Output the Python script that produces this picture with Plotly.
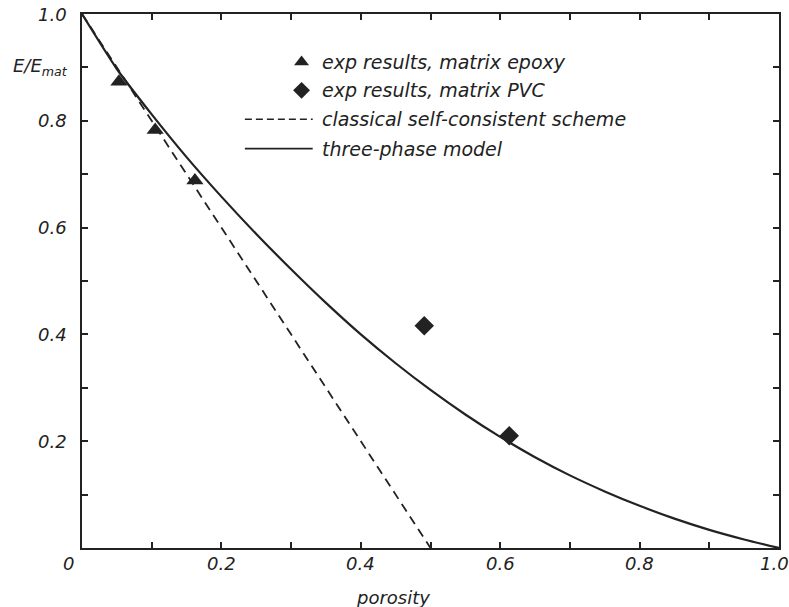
import plotly.graph_objects as go

# Three-phase model curve
porosity_model = [0.0, 0.05, 0.1, 0.15, 0.2, 0.25, 0.3, 0.35, 0.4, 0.45, 0.5,
                  0.55, 0.6, 0.65, 0.7, 0.75, 0.8, 0.85, 0.9, 0.95, 1.0]
e_model = [1.0, 0.897, 0.812, 0.732, 0.658, 0.588, 0.522, 0.459, 0.400, 0.346, 0.296,
           0.250, 0.208, 0.170, 0.136, 0.106, 0.079, 0.055, 0.034, 0.016, 0.0]

# Classical self-consistent scheme
porosity_scs = [0.0, 0.5]
e_scs = [1.0, 0.0]

# Experimental results
epoxy_p = [0.053, 0.105, 0.162]
epoxy_e = [0.873, 0.783, 0.688]
pvc_p = [0.491, 0.613]
pvc_e = [0.416, 0.21]

# Tick labels
x_ticks = [0.0, 0.2, 0.4, 0.6, 0.8, 1.0]
x_ticklabels = ["0", "0.2", "0.4", "0.6", "0.8", "1.0"]
y_ticks = [0.2, 0.4, 0.6, 0.8, 1.0]
y_ticklabels = ["0.2", "0.4", "0.6", "0.8", "1.0"]

legend_labels = ["exp results, matrix epoxy", "exp results, matrix PVC",
                 "classical self-consistent scheme", "three-phase model"]

INK = "#222222"
FONT = "DejaVu Sans"

row_y = [0.910, 0.857, 0.803, 0.748]

fig = go.Figure()
fig.add_trace(go.Scatter(x=porosity_scs, y=e_scs, mode="lines",
                         line=dict(color=INK, width=1.8, dash="9px,6px"),
                         showlegend=False))
fig.add_trace(go.Scatter(x=porosity_model, y=e_model, mode="lines",
                         line=dict(color=INK, width=2.2, shape="spline", smoothing=0.6),
                         showlegend=False))
fig.add_trace(go.Scatter(x=epoxy_p, y=epoxy_e, mode="markers",
                         marker=dict(symbol="triangle-up", size=15, color=INK,
                                     line=dict(width=0)),
                         showlegend=False))
fig.add_trace(go.Scatter(x=pvc_p, y=pvc_e, mode="markers",
                         marker=dict(symbol="diamond", size=15, color=INK,
                                     line=dict(width=0)),
                         showlegend=False))
# legend marker samples (drawn on an overlay axis spanning the plot area)
fig.add_trace(go.Scatter(x=[0.315, 0.315], y=row_y[:2], mode="markers",
                         xaxis="x2", yaxis="y2",
                         marker=dict(symbol=["triangle-up", "diamond"], size=[13, 13],
                                     color=INK, opacity=1, line=dict(width=0)),
                         showlegend=False, hoverinfo="skip"))

axis_common = dict(range=[0, 1], dtick=0.1, tick0=0, ticks="inside", ticklen=6,
                   tickwidth=1.5, tickcolor=INK, showline=True, linewidth=2,
                   linecolor=INK, mirror="ticks", showgrid=False, zeroline=False,
                   showticklabels=False)
fig.update_xaxes(**axis_common)
fig.update_yaxes(**axis_common)

ann = []
tickfont = dict(family=FONT, size=18, color=INK)
for xv, lab in zip(x_ticks, x_ticklabels):
    shift = 0
    if lab == "0":
        shift = -14
    elif lab == "1.0":
        shift = -5
    ann.append(dict(x=xv, y=0, xref="x", yref="paper", text="<i>%s</i>" % lab,
                    showarrow=False, xanchor="center", yanchor="middle",
                    yshift=-15, xshift=shift, font=tickfont))
for yv, lab in zip(y_ticks, y_ticklabels):
    ann.append(dict(x=0, y=yv, xref="paper", yref="y", text="<i>%s</i>" % lab,
                    showarrow=False, xanchor="right", yanchor="middle",
                    xshift=-13, font=tickfont))
# axis titles
ann.append(dict(x=0, y=0.9, xref="paper", yref="y",
                text="<i>E/E<sub>mat</sub></i>", showarrow=False,
                xanchor="right", yanchor="middle", xshift=-12,
                font=dict(family=FONT, size=18, color=INK)))
ann.append(dict(x=0.446, y=0, xref="paper", yref="paper", text="<i>porosity</i>",
                showarrow=False, xanchor="center", yanchor="middle", yshift=-49,
                font=dict(family=FONT, size=18, color=INK)))

# legend (hand-drawn)
leg_font = dict(family=FONT, size=19, color=INK)
for ry, lab in zip(row_y, legend_labels):
    ann.append(dict(x=0.341, y=ry, xref="paper", yref="paper",
                    text="<i>%s</i>" % lab, showarrow=False,
                    xanchor="left", yanchor="middle", font=leg_font))

shapes = [
    dict(type="line", xref="paper", yref="paper", x0=0.2337, x1=0.331,
         y0=row_y[2], y1=row_y[2], line=dict(color=INK, width=1.5, dash="7px,4px")),
    dict(type="line", xref="paper", yref="paper", x0=0.2337, x1=0.331,
         y0=row_y[3], y1=row_y[3], line=dict(color=INK, width=1.8)),
]

fig.update_layout(
    width=789, height=607,
    margin=dict(l=82, r=8, t=14, b=59),
    paper_bgcolor="white", plot_bgcolor="white",
    annotations=ann, shapes=shapes, showlegend=False,
    xaxis2=dict(range=[0, 1], overlaying="x", visible=False),
    yaxis2=dict(range=[0, 1], overlaying="y", visible=False),
)

fig.write_html("out.html")
